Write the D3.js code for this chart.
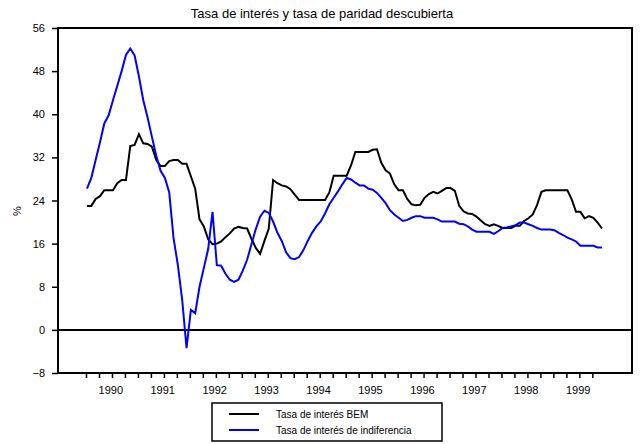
<!DOCTYPE html>
<html>
<head>
<meta charset="utf-8">
<script src="https://cdn.jsdelivr.net/npm/d3@7"></script>
<style>
  body { margin: 0; background: #fff; }
  text { font-family: "Liberation Sans", Arial, sans-serif; }
</style>
</head>
<body>
<script>
// datos mensuales, enero 1990 - diciembre 1999
var years = ["1990","1991","1992","1993","1994","1995","1996","1997","1998","1999"];
var yTicks = [-8, 0, 8, 16, 24, 32, 40, 48, 56];

var bem = [
  23.0, 23.0, 24.3, 24.8, 25.9, 25.9, 25.9, 27.2, 27.8, 27.8,
  34.1, 34.3, 36.3, 34.6, 34.5, 34.0, 31.5, 30.4, 30.4, 31.3,
  31.5, 31.5, 30.8, 30.8, 28.5, 26.2, 20.5, 19.2, 16.8, 15.9,
  16.0, 16.4, 17.2, 17.9, 18.8, 19.1, 18.9, 18.8, 16.9, 15.2,
  14.1, 16.5, 18.8, 27.8, 27.2, 26.8, 26.6, 26.1, 25.1, 24.1,
  24.1, 24.1, 24.1, 24.1, 24.1, 24.1, 25.5, 28.6, 28.6, 28.6,
  28.6, 30.5, 33.0, 33.0, 33.0, 33.0, 33.4, 33.5, 31.0, 29.6,
  29.0, 27.0, 25.9, 25.9, 24.3, 23.3, 23.1, 23.2, 24.5, 25.2,
  25.6, 25.3, 25.8, 26.3, 26.3, 25.8, 23.0, 22.0, 21.6, 21.5,
  21.0, 20.3, 19.6, 19.3, 19.6, 19.3, 18.9, 18.9, 18.9, 19.3,
  19.3, 20.2, 20.7, 21.4, 23.2, 25.6, 25.9, 25.9, 25.9, 25.9,
  25.9, 25.9, 24.2, 21.9, 21.9, 20.7, 21.1, 20.8, 19.9, 18.8
];

var indif = [
  26.2, 28.2, 31.5, 34.8, 38.3, 39.8, 42.6, 45.3, 48.0, 51.0,
  52.2, 50.9, 47.0, 42.6, 39.4, 35.8, 32.3, 29.5, 28.2, 25.5,
  17.0, 12.0, 5.5, -3.4, 3.7, 3.1, 8.0, 11.5, 15.0, 21.9,
  12.0, 11.9, 10.4, 9.3, 8.9, 9.3, 11.0, 13.0, 15.9, 18.7,
  21.0, 22.1, 21.7, 20.1, 18.0, 16.5, 14.4, 13.3, 13.1, 13.5,
  14.8, 16.5, 18.0, 19.2, 20.1, 21.6, 23.3, 24.5, 25.7, 27.0,
  28.2, 27.9, 27.3, 26.8, 26.8, 26.2, 26.0, 25.4, 24.5, 23.5,
  22.2, 21.4, 20.8, 20.2, 20.4, 20.8, 21.1, 21.1, 20.8, 20.8,
  20.8, 20.5, 20.1, 20.1, 20.1, 20.1, 19.7, 19.6, 19.2, 18.6,
  18.2, 18.2, 18.2, 18.2, 17.8, 18.3, 18.9, 19.0, 19.2, 19.4,
  19.9, 19.9, 19.6, 19.3, 18.9, 18.6, 18.6, 18.6, 18.5, 18.0,
  17.6, 17.1, 16.8, 16.4, 15.6, 15.6, 15.6, 15.6, 15.3, 15.3
];

var W = 641, H = 444;
var box = {left: 58, right: 632, top: 28, bottom: 373};

var svg = d3.select("body").append("svg")
  .attr("width", W)
  .attr("height", H);

// escalas
var xScale = d3.scaleLinear().domain([0, 119]).range([87, 602]);
var yScale = d3.scaleLinear().domain([-8, 56]).range([box.bottom, box.top]);

// titulo
svg.append("text")
  .attr("x", 322).attr("y", 18)
  .attr("text-anchor", "middle")
  .attr("font-size", "13px")
  .text("Tasa de interés y tasa de paridad descubierta");

// marco
svg.append("rect")
  .attr("x", box.left).attr("y", box.top)
  .attr("width", box.right - box.left)
  .attr("height", box.bottom - box.top)
  .attr("fill", "none")
  .attr("stroke", "#000")
  .attr("stroke-width", 2);

// eje y
var yAxis = d3.axisLeft(yScale).tickValues(yTicks).tickSize(6).tickPadding(7);
var yG = svg.append("g")
  .attr("transform", "translate(" + box.left + ",0)")
  .call(yAxis);
yG.select(".domain").remove();
yG.selectAll("line").attr("stroke-width", 1.5);
yG.selectAll("text").attr("font-size", "11px").attr("fill", "#000")
  .style("font-family", "'Liberation Sans', Arial, sans-serif");

svg.append("text")
  .attr("transform", "translate(21,211) rotate(-90)")
  .attr("text-anchor", "middle")
  .attr("font-size", "11px")
  .text("%");

// eje x: marcas trimestrales
var xAxis = d3.axisBottom(xScale).tickValues(d3.range(0, 120, 3)).tickSize(5).tickFormat("");
var xG = svg.append("g")
  .attr("transform", "translate(-1," + box.bottom + ")")
  .call(xAxis);
xG.select(".domain").remove();
xG.selectAll("line").attr("stroke-width", 1.5);

svg.selectAll(".year")
  .data(years)
  .enter().append("text")
  .attr("class", "year")
  .attr("x", function(d, i) { return xScale(i * 12 + 5.5); })
  .attr("y", 394)
  .attr("text-anchor", "middle")
  .attr("font-size", "11px")
  .text(function(d) { return d; });

// linea de cero
svg.append("line")
  .attr("x1", box.left).attr("x2", box.right)
  .attr("y1", yScale(0)).attr("y2", yScale(0))
  .attr("stroke", "#000")
  .attr("stroke-width", 2);

// series
var line = d3.line()
  .x(function(d, i) { return xScale(i); })
  .y(function(d) { return yScale(d); });

svg.append("path")
  .datum(bem)
  .attr("d", line)
  .attr("fill", "none")
  .attr("stroke", "#000")
  .attr("stroke-width", 2);

svg.append("path")
  .datum(indif)
  .attr("d", line)
  .attr("fill", "none")
  .attr("stroke", "#0000ff")
  .attr("stroke-width", 2);

// leyenda
var legend = svg.append("g");
legend.append("rect")
  .attr("x", 212).attr("y", 403)
  .attr("width", 230).attr("height", 38)
  .attr("fill", "#fff")
  .attr("stroke", "#000")
  .attr("stroke-width", 1.5);

var items = [
  {name: "Tasa de interés BEM", color: "#000"},
  {name: "Tasa de interés de indiferencia", color: "#0000ff"}
];
items.forEach(function(d, i) {
  var y = 414 + i * 16;
  legend.append("line")
    .attr("x1", 229).attr("x2", 259)
    .attr("y1", y).attr("y2", y)
    .attr("stroke", d.color)
    .attr("stroke-width", 2);
  legend.append("text")
    .attr("x", 276).attr("y", y + 3.5)
    .attr("font-size", "10px")
    .text(d.name);
});
</script>
</body>
</html>
